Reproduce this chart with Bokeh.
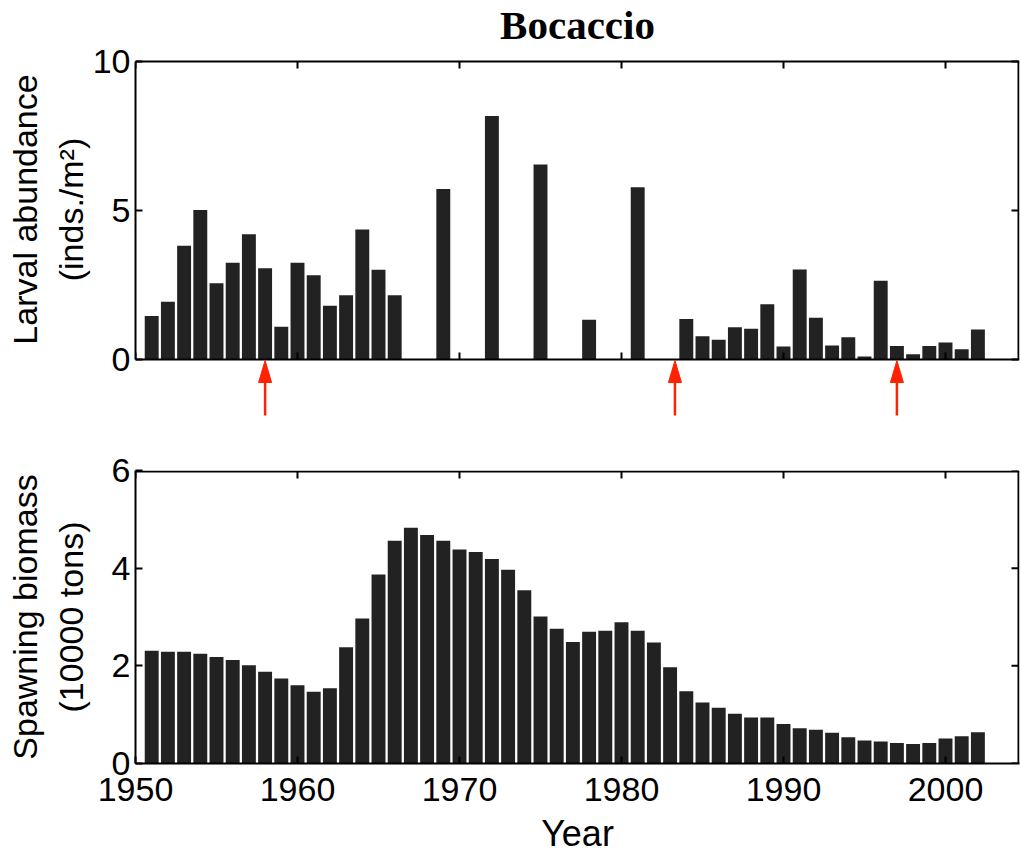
from bokeh.plotting import figure
from bokeh.layouts import column
from bokeh.models import (Range1d, LinearAxis, FixedTicker, ColumnDataSource,
                          Span)
from bokeh.core.properties import value
from bokeh.embed import file_html
from bokeh.resources import INLINE

# ---------------- data ----------------
larval_years = [1951, 1952, 1953, 1954, 1955, 1956, 1957, 1958, 1959, 1960,
                1961, 1962, 1963, 1964, 1965, 1966, 1969, 1972, 1975, 1978,
                1981, 1984, 1985, 1986, 1987, 1988, 1989, 1990, 1991, 1992,
                1993, 1994, 1995, 1996, 1997, 1998, 1999, 2000, 2001, 2002]
larval_values = [1.46, 1.94, 3.82, 5.02, 2.56, 3.25, 4.20, 3.06, 1.10, 3.25,
                 2.83, 1.80, 2.16, 4.36, 3.01, 2.16, 5.72, 8.17, 6.54, 1.33,
                 5.78, 1.36, 0.78, 0.66, 1.08, 1.03, 1.85, 0.44, 3.02, 1.40,
                 0.47, 0.75, 0.10, 2.64, 0.45, 0.18, 0.45, 0.57, 0.34, 1.01]

biomass_years = list(range(1951, 2003))
biomass_values = [2.31, 2.29, 2.29, 2.25, 2.18, 2.12, 2.01, 1.88, 1.74, 1.60,
                  1.47, 1.54, 2.38, 2.97, 3.87, 4.56, 4.83, 4.68, 4.56, 4.38,
                  4.33, 4.19, 3.97, 3.55, 3.01, 2.76, 2.49, 2.70, 2.72, 2.89,
                  2.72, 2.48, 1.97, 1.48, 1.25, 1.14, 1.02, 0.94, 0.94, 0.81,
                  0.72, 0.69, 0.63, 0.54, 0.47, 0.45, 0.42, 0.40, 0.42, 0.51,
                  0.56, 0.64]

arrow_years = [1958, 1983.3, 1997]

x_ticks = [1950, 1960, 1970, 1980, 1990, 2000]
larval_ticks = [0, 5, 10]
biomass_ticks = [0, 2, 4, 6]

title_text = "Bocaccio"
larval_label = "Larval abundance\n(inds./m\u00b2)"
biomass_label = "Spawning biomass\n(10000 tons)"
x_label = "Year"

# ---------------- style ----------------
W = 1021
LEFT = 135
RIGHT = 2
BAR_COLOR = "#222222"
ARROW_COLOR = "#ff2200"
FONT = "Liberation Sans"
FS = "34px"
PX_PER_YEAR = 16.2
TICK_LEN = 7
x_start = 1950
x_end = x_start + (W - LEFT - RIGHT) / PX_PER_YEAR
x_px = 1.0 / PX_PER_YEAR
x_range = Range1d(x_start, x_end)


def style_axis(ax):
    ax.axis_line_width = 2
    ax.axis_line_color = "black"
    ax.major_tick_in = TICK_LEN
    ax.major_tick_out = 0
    ax.major_tick_line_width = 2
    ax.major_tick_line_color = "black"
    ax.minor_tick_line_color = None
    ax.major_label_text_font = FONT
    ax.major_label_text_color = "black"
    ax.major_label_text_font_size = FS


def base_figure(height, y_range, top_border, bottom_border):
    p = figure(width=W, height=height, x_range=x_range, y_range=y_range,
               output_backend="svg", toolbar_location=None, title=None,
               min_border_left=LEFT, min_border_right=RIGHT,
               min_border_top=top_border, min_border_bottom=bottom_border,
               x_axis_location=None, y_axis_location=None)
    p.grid.visible = False
    p.outline_line_color = None
    p.background_fill_color = "white"
    p.border_fill_color = "white"
    return p


def add_left_axis(p, y_ticks, ylabel, label_standoff, bounds=None):
    left = LinearAxis(ticker=FixedTicker(ticks=y_ticks))
    style_axis(left)
    left.major_label_standoff = 5
    left.axis_label = ylabel
    left.axis_label_text_font = FONT
    left.axis_label_text_font_size = FS
    left.axis_label_text_font_style = "normal"
    left.axis_label_text_color = "black"
    left.axis_label_standoff = label_standoff
    if bounds is not None:
        left.bounds = bounds
    p.add_layout(left, "left")


def add_box(p, y_lo, y_hi, y_ticks, y_px, top_inset):
    """Top and right box lines with inward ticks, plus bottom line if needed."""
    xr = x_end - x_px  # right line kept just inside the frame
    y_top = y_hi - (y_px if top_inset else 0)
    nt = len(x_ticks)
    ny = len(y_ticks)
    # top line and its ticks
    p.segment(x0=[x_start], y0=[y_top], x1=[x_end], y1=[y_top],
              line_color="black", line_width=2)
    p.segment(x0=x_ticks, y0=[y_top] * nt, x1=x_ticks,
              y1=[y_top - TICK_LEN * y_px] * nt, line_color="black",
              line_width=2)
    # right line and its ticks
    p.segment(x0=[xr], y0=[y_lo], x1=[xr], y1=[y_top],
              line_color="black", line_width=2)
    p.segment(x0=[xr] * ny, y0=y_ticks, x1=[xr - TICK_LEN * x_px] * ny,
              y1=y_ticks, line_color="black", line_width=2)


# ---------------- top panel (with title above and arrows below) ----------------
TOP_PX = 298
ABOVE_PX = 61
EXT_PX = 59
unit_per_px = 10.0 / TOP_PX
TOP_H = ABOVE_PX + TOP_PX + EXT_PX + 7
top = base_figure(TOP_H, Range1d(-EXT_PX * unit_per_px,
                                 10 + ABOVE_PX * unit_per_px), 0, 7)
add_left_axis(top, larval_ticks, larval_label, 0, bounds=(0, 10))

top.vbar(x="x", top="top", width=0.86,
         source=ColumnDataSource(dict(x=larval_years, top=larval_values)),
         fill_color=BAR_COLOR, line_color=None)

add_box(top, 0, 10, larval_ticks, unit_per_px, False)
# bottom line at y = 0 with inward ticks
nt = len(x_ticks)
top.segment(x0=[x_start], y0=[0], x1=[x_end], y1=[0],
            line_color="black", line_width=2)
top.segment(x0=x_ticks, y0=[0] * nt, x1=x_ticks,
            y1=[TICK_LEN * unit_per_px] * nt,
            line_color="black", line_width=2)

# title
top.text(x=[(x_start + x_end) / 2], y=[10 + 36.5 * unit_per_px],
         text=[title_text], text_font=value("Liberation Serif"),
         text_font_style="bold", text_font_size="41px", text_align="center",
         text_baseline="alphabetic", text_color="black")

# red arrows below the axis
half_w = 6.5 / PX_PER_YEAR
n = len(arrow_years)
top.segment(x0=arrow_years, y0=[-56 * unit_per_px] * n,
            x1=arrow_years, y1=[-20 * unit_per_px] * n,
            line_color=ARROW_COLOR, line_width=2.5)
top.patches(xs=[[a - half_w, a, a + half_w] for a in arrow_years],
            ys=[[-23 * unit_per_px, -1 * unit_per_px, -23 * unit_per_px]
                for _ in arrow_years],
            fill_color=ARROW_COLOR, line_color=ARROW_COLOR, line_width=1)

# ---------------- bottom panel ----------------
Y0 = TOP_H
BOT_H = 856 - Y0
BOT_PX = 297
bot_unit_per_px = 6.0 / BOT_PX
bottom = base_figure(BOT_H, Range1d(0, 6), 470 - Y0,
                     BOT_H - (470 - Y0) - BOT_PX)
add_left_axis(bottom, biomass_ticks, biomass_label, 19)
below = LinearAxis(ticker=FixedTicker(ticks=x_ticks))
style_axis(below)
below.major_label_standoff = 14
below.axis_label = x_label
below.axis_label_text_font = FONT
below.axis_label_text_font_size = "36px"
below.axis_label_text_font_style = "normal"
below.axis_label_text_color = "black"
below.axis_label_standoff = 9
bottom.add_layout(below, "below")

bottom.vbar(x="x", top="top", width=0.86,
            source=ColumnDataSource(dict(x=biomass_years, top=biomass_values)),
            fill_color=BAR_COLOR, line_color=None)

add_box(bottom, 0, 6, biomass_ticks, bot_unit_per_px, True)

layout = column(top, bottom, spacing=0)

open("out.html", "w").write(file_html(layout, INLINE))
